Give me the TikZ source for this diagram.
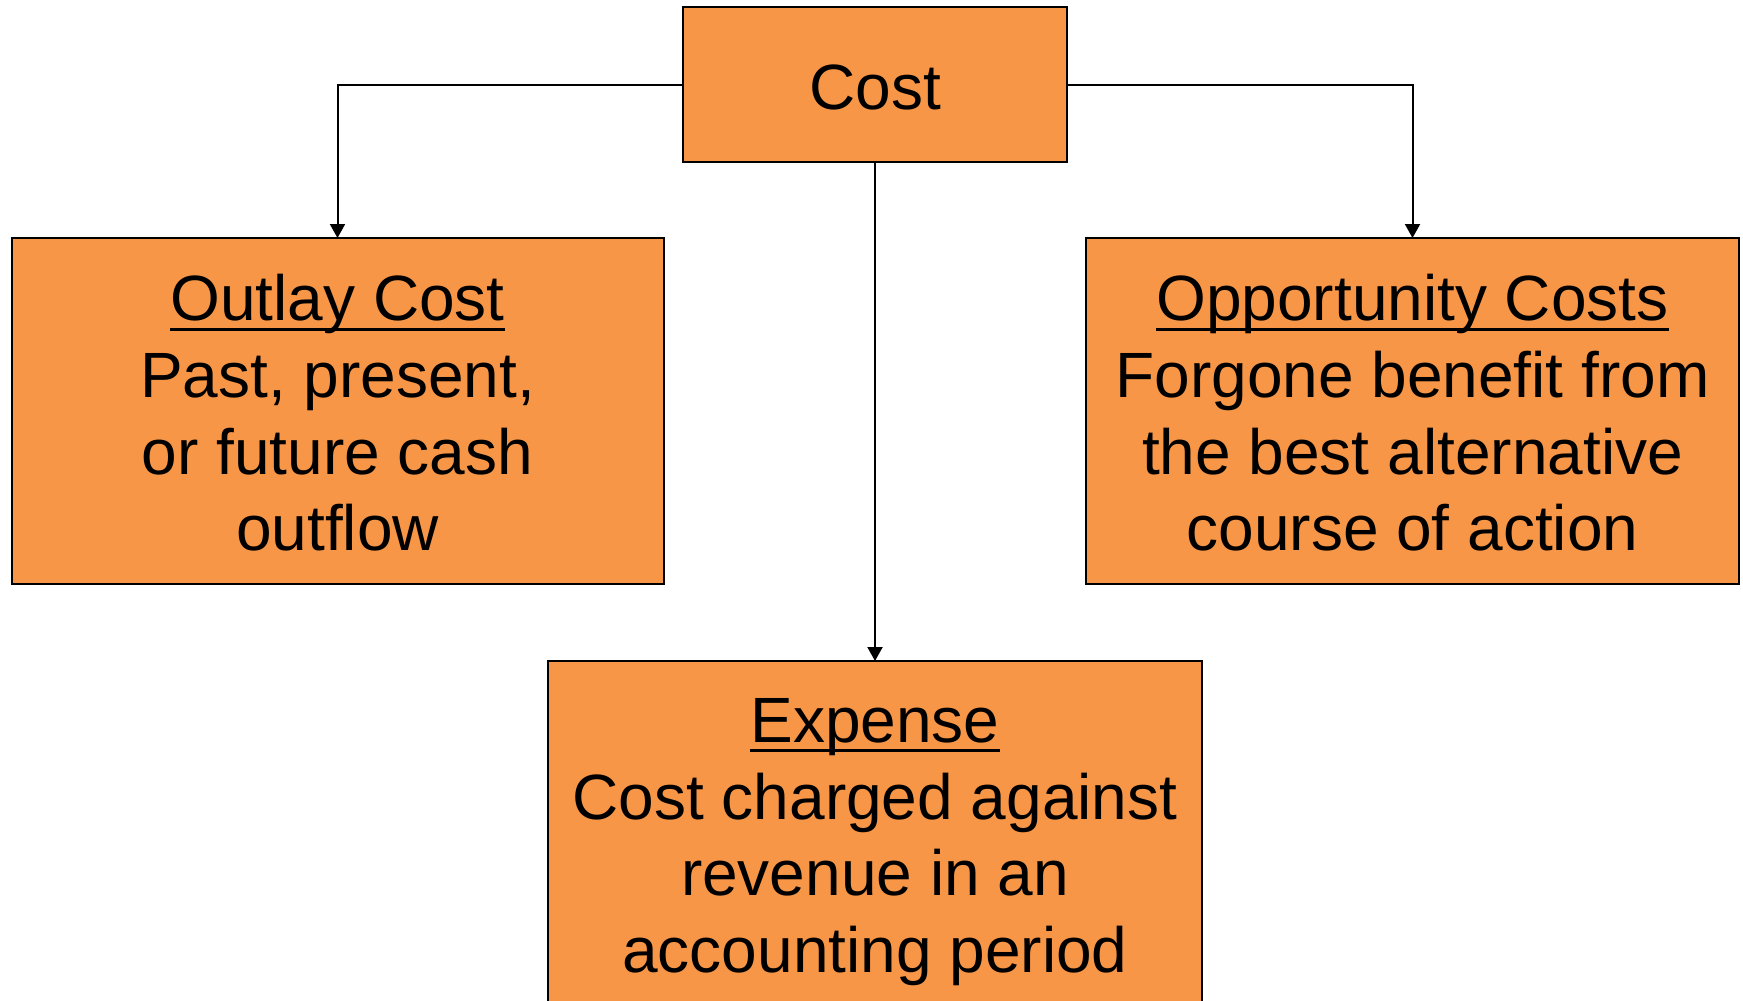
\documentclass[tikz,border=0pt]{standalone}
\usepackage{fontspec}
\setmainfont{Liberation Sans}
\usetikzlibrary{arrows.meta}
\newcommand{\myul}[1]{\setbox0\hbox{#1}\rlap{\rule[-10pt]{\wd0}{3pt}}\box0}
\tikzset{
  x=1pt, y=-1pt,
  costbox/.style={draw=black, line width=2pt, fill=boxorange, rectangle, inner sep=0pt, outer sep=0pt},
  boxtext/.style={align=center, inner sep=0pt, font=\fontsize{64}{76.7}\selectfont},
  conn/.style={draw=black, line width=2pt, -{Triangle[width=15pt,length=14pt]}},
}
\definecolor{boxorange}{HTML}{F79646}
\begin{document}
\begin{tikzpicture}
\useasboundingbox (0,0) rectangle (1743,1001);
\clip (0,0) rectangle (1743,1001);
\node[costbox, minimum width=384pt, minimum height=155pt] (cost) at (875,84.5) {};
\node[costbox, minimum width=652pt, minimum height=346pt] (outlay) at (337.5,411) {};
\node[costbox, minimum width=653pt, minimum height=346pt] (opp) at (1412.5,411) {};
\node[costbox, minimum width=654pt, minimum height=380pt] (exp) at (875,851) {};
\node[boxtext, anchor=base] (costt) at (875,109) {Cost};
\node[boxtext] (outlayt) at (337.5,413) {\myul{Outlay Cost}\\Past, present,\\or future cash\\outflow};
\node[boxtext] (oppt) at (1412.5,413) {\myul{Opportunity Costs}\\Forgone benefit from\\the best alternative\\course of action};
\node[boxtext] (expt) at (875,842) {\myul{Expense}\\Cost charged against\\revenue in an\\accounting period};
\draw[conn] (cost.west) -| (outlay.north);
\draw[conn] (cost.east) -| (opp.north);
\draw[conn] (cost.south) -- (exp.north);
\end{tikzpicture}
\end{document}
